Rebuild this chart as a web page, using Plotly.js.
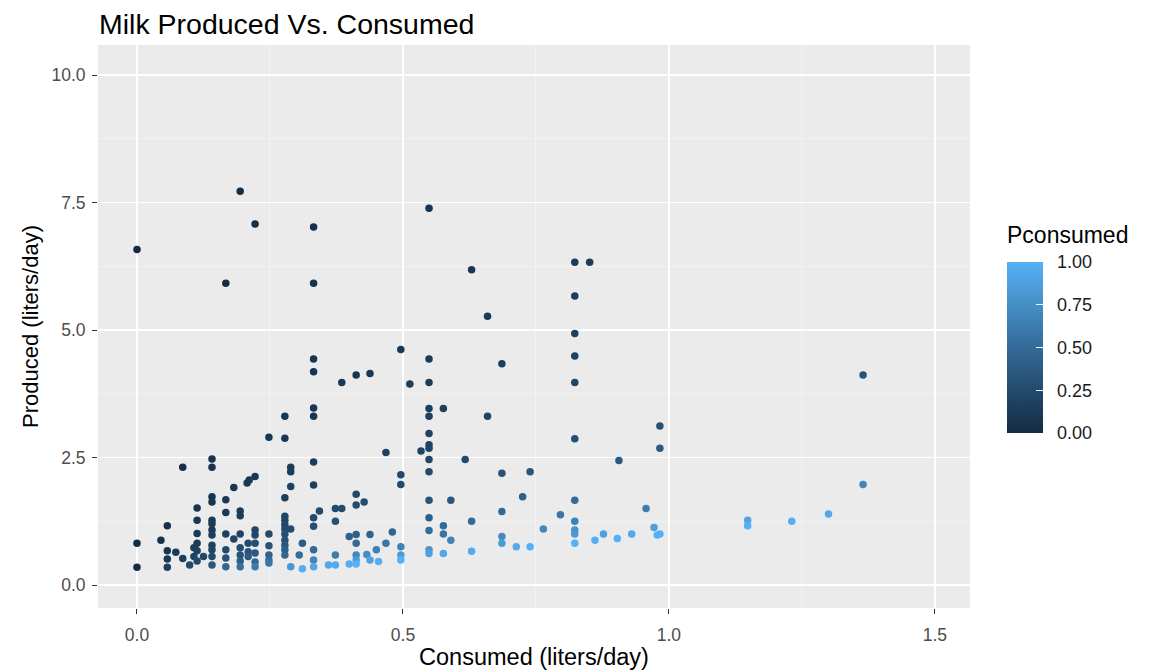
<!DOCTYPE html>
<html>
<head>
<meta charset="utf-8">
<script src="https://cdn.plot.ly/plotly-3.0.1.min.js"></script>
<style>
html,body{margin:0;padding:0;background:#fff;}
#chart{width:1158px;height:671px;}
</style>
</head>
<body>
<div id="chart"></div>
<script>
// Consumed (liters/day)
const consumed = [
  0,0,0,
  0.045,
  0.057,0.057,0.057,0.057,
  0.073,
  0.086,0.086,
  0.099,
  0.107,0.107,
  0.113,0.113,0.113,0.113,0.113,0.113,
  0.125,
  0.141,0.141,0.141,0.141,0.141,0.141,0.141,0.141,0.141,0.141,0.141,0.141,
  0.167,0.167,0.167,0.167,0.167,0.167,0.167,
  0.182,0.182,
  0.194,0.194,0.194,0.194,0.194,0.194,0.194,0.194,
  0.207,0.211,0.209,0.209,0.209,
  0.222,0.222,0.222,0.222,0.222,0.222,0.222,0.222,
  0.248,0.248,0.248,0.248,0.248,0.248,
  0.278,0.278,0.278,0.278,0.278,0.278,0.278,0.278,0.278,0.278,0.278,0.278,
  0.289,0.289,0.289,0.289,0.289,
  0.305,0.311,0.311,
  0.332,0.332,0.332,0.332,0.332,0.332,0.332,0.332,0.332,0.332,0.332,0.332,0.332,
  0.343,
  0.36,
  0.373,0.373,0.373,0.373,
  0.385,0.385,
  0.399,0.399,
  0.412,0.412,0.412,0.412,0.412,0.412,0.412,0.412,
  0.427,
  0.432,
  0.438,0.438,0.438,
  0.45,
  0.454,
  0.468,0.468,
  0.48,
  0.496,0.496,0.496,0.496,0.496,0.496,
  0.513,
  0.534,
  0.549,0.549,0.549,0.549,0.549,0.549,0.549,0.549,0.549,0.549,0.549,0.549,0.549,0.549,0.549,
  0.576,0.576,0.576,0.576,
  0.59,0.59,
  0.629,0.617,0.629,0.629,
  0.659,0.659,
  0.686,0.686,0.686,0.686,0.686,
  0.713,
  0.725,
  0.739,0.739,
  0.764,
  0.796,
  0.823,0.823,0.823,0.823,0.823,0.823,0.823,0.823,0.823,0.823,0.823,
  0.851,
  0.861,
  0.877,
  0.903,
  0.906,
  0.93,
  0.957,
  0.972,
  0.978,
  0.983,0.983,0.983,
  1.148,1.148,
  1.231,
  1.3,
  1.365,1.365
];
// Produced (liters/day)
const produced = [
  6.58,0.82,0.35,
  0.88,
  1.16,0.67,0.51,0.35,
  0.64,
  2.31,0.52,
  0.39,
  0.73,0.56,
  1.51,1.27,1.01,0.82,0.67,0.47,
  0.56,
  2.47,2.31,1.73,1.63,1.27,1.20,1.08,0.98,0.78,0.69,0.56,0.39,
  5.92,1.67,1.42,1.00,0.69,0.53,0.36,
  1.91,0.90,
  7.72,1.45,1.36,1.00,0.73,0.59,0.47,0.36,
  2.00,2.06,0.82,0.65,0.56,
  7.08,2.13,1.08,0.98,0.82,0.63,0.45,0.36,
  2.90,1.00,0.77,0.59,0.49,0.43,
  3.31,2.88,1.71,1.35,1.27,1.18,1.10,1.00,0.88,0.78,0.69,0.59,
  2.31,2.22,1.93,1.10,0.36,
  0.59,0.82,0.32,
  7.02,5.92,4.43,4.18,3.47,3.31,2.41,1.96,1.32,1.15,0.69,0.49,0.36,
  1.45,
  0.39,
  1.50,1.25,0.59,0.39,
  3.97,1.50,
  0.95,0.41,
  4.12,1.78,1.57,0.99,0.82,0.59,0.49,0.41,
  1.63,
  0.60,
  4.15,0.99,0.49,
  0.69,
  0.46,
  2.60,0.82,
  1.04,
  4.62,2.16,1.97,0.75,0.59,0.49,
  3.94,
  2.63,
  7.39,4.43,3.97,3.46,3.31,2.97,2.75,2.68,2.46,2.22,1.66,1.32,1.07,0.69,0.62,
  3.46,1.16,1.00,0.62,
  1.66,0.88,
  6.18,2.46,1.25,0.66,
  5.27,3.31,
  4.34,2.19,1.44,0.95,0.82,
  0.75,
  1.73,
  2.22,0.75,
  1.10,
  1.38,
  6.33,5.67,4.93,4.49,3.97,2.87,1.66,1.25,1.08,1.00,0.82,
  6.33,
  0.88,
  1.00,
  0.91,
  2.44,
  1.00,
  1.50,
  1.13,
  0.98,
  3.12,2.68,1.00,
  1.27,1.16,
  1.25,
  1.39,
  4.12,1.97
];
// Pconsumed: share consumed = consumed / produced (capped at 1)
const pconsumed = consumed.map((c, i) => Math.min(1, c / produced[i]));

const xTickVals = [0, 0.5, 1.0, 1.5];
const xTickText = ["0.0", "0.5", "1.0", "1.5"];
const yTickVals = [0, 2.5, 5, 7.5, 10];
const yTickText = ["0.0", "2.5", "5.0", "7.5", "10.0"];
const cbTickVals = [0, 0.25, 0.5, 0.75, 1];
const cbTickText = ["\u00A0\u00A00.00", "\u00A0\u00A00.25", "\u00A0\u00A00.50", "\u00A0\u00A00.75", "\u00A0\u00A01.00"];

const FONT = "Liberation Sans, Arial, sans-serif";

const trace = {
  type: "scatter",
  mode: "markers",
  x: consumed,
  y: produced,
  hoverinfo: "x+y",
  marker: {
    size: 7.5,
    color: pconsumed,
    cmin: 0,
    cmax: 1,
    colorscale: [
      [0, "#132B43"],
      [0.25, "#234A6C"],
      [0.5, "#336A98"],
      [0.75, "#458FC6"],
      [1, "#56B1F7"]
    ],
    line: {width: 0},
    colorbar: {
      thickness: 36,
      len: 171,
      lenmode: "pixels",
      x: 1.0424,
      xanchor: "left",
      xpad: 0,
      y: 0.3108,
      yanchor: "bottom",
      ypad: 0,
      outlinewidth: 0,
      tickvals: cbTickVals,
      ticktext: cbTickText,
      ticks: "inside",
      ticklen: 7,
      tickcolor: "#ffffff",
      tickwidth: 1,
      tickfont: {family: FONT, size: 18, color: "#1a1a1a"}
    }
  }
};

const layout = {
  width: 1158,
  height: 671,
  paper_bgcolor: "#ffffff",
  plot_bgcolor: "#EBEBEB",
  margin: {l: 98, r: 188, t: 45, b: 63},
  showlegend: false,
  title: {
    text: "Milk Produced Vs. Consumed",
    font: {family: FONT, size: 28.5, color: "#000"},
    x: 99 / 1158,
    xref: "container",
    xanchor: "left",
    y: 1 - 24 / 671,
    yref: "container",
    yanchor: "middle"
  },
  annotations: [{
    text: "Pconsumed",
    xref: "paper", yref: "paper",
    x: (1005 - 98) / 872, y: (608 - 235) / 563,
    xanchor: "left", yanchor: "middle",
    showarrow: false,
    font: {family: FONT, size: 23, color: "#000"}
  }],
  xaxis: {
    range: [-0.0733, 1.566],
    tickvals: xTickVals,
    ticktext: xTickText,
    ticks: "outside",
    ticklen: 5,
    tickcolor: "#333333",
    tickwidth: 1,
    ticklabelstandoff: 6,
    tickfont: {family: FONT, size: 17.5, color: "#4D4D4D"},
    showgrid: true,
    gridcolor: "#ffffff",
    gridwidth: 1.3,
    zeroline: false,
    showline: false,
    minor: {tickvals: [0.25, 0.75, 1.25], showgrid: true, gridcolor: "#F7F7F7", gridwidth: 0.6, ticks: ""},
    title: {text: "Consumed (liters/day)", font: {family: FONT, size: 23.5, color: "#000"}, standoff: 4},
    automargin: false
  },
  yaxis: {
    range: [-0.451, 10.59],
    tickvals: yTickVals,
    ticktext: yTickText,
    ticks: "outside",
    ticklen: 5,
    tickcolor: "#333333",
    tickwidth: 1,
    ticklabelstandoff: 3,
    tickfont: {family: FONT, size: 17.5, color: "#4D4D4D"},
    showgrid: true,
    gridcolor: "#ffffff",
    gridwidth: 1.3,
    zeroline: false,
    showline: false,
    minor: {tickvals: [1.25, 3.75, 6.25, 8.75], showgrid: true, gridcolor: "#F7F7F7", gridwidth: 0.6, ticks: ""},
    title: {text: "Produced (liters/day)", font: {family: FONT, size: 22, color: "#000"}, standoff: 6},
    automargin: false
  }
};

Plotly.newPlot("chart", [trace], layout, {displayModeBar: false, staticPlot: true});
</script>
</body>
</html>
